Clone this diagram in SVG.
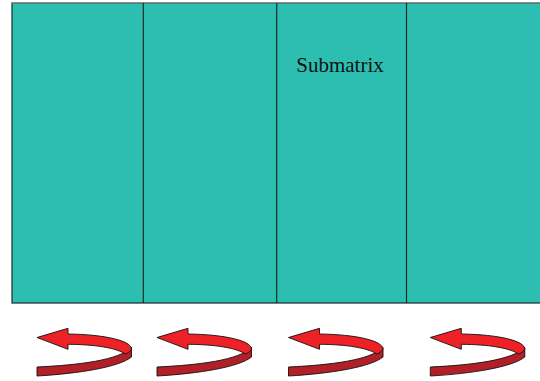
<svg xmlns="http://www.w3.org/2000/svg" width="540" height="381" viewBox="0 0 540 381">
<defs>
<style>
.cell{fill:#2cbfb1;stroke:#1a2a28;stroke-width:1.2}
.lbl{font-family:"Liberation Serif",serif;font-size:21px;fill:#111}
.top{fill:#ee2226;stroke:#111;stroke-width:0.9;stroke-linejoin:miter}
.under{fill:#b21f26;stroke:#111;stroke-width:0.9}
</style>
<g id="arrow">
<path class="under" d="M131.5,347.5 L131.5,357 C119,367 80,373.5 37,376 L37,367 C80,365 119,360 131.5,347.5 Z"/>
<path class="top" d="M37,337.5 L68,328.3 L68,334 C106,334.5 131.5,341 131.5,349 C130,351.5 128,353 125.5,354 C116,348 96,344.5 68,344.3 L68,349.3 Z"/>
</g>
</defs>
<g id="matrix">
<rect class="cell" x="12" y="3" width="540" height="300"/>
<line x1="12" y1="3" x2="540" y2="3" stroke="#9a9a9a" stroke-width="1.2"/>
</g>
<g id="connectors">
<line x1="143.3" y1="3" x2="143.3" y2="303" stroke="#1a2a28" stroke-width="1.2"/>
<line x1="276.7" y1="3" x2="276.7" y2="303" stroke="#1a2a28" stroke-width="1.2"/>
<line x1="406.5" y1="3" x2="406.5" y2="303" stroke="#1a2a28" stroke-width="1.2"/>
</g>
<g id="label">
<text class="lbl" x="340" y="72" text-anchor="middle">Submatrix</text>
</g>
<g id="arrow1"><use href="#arrow"/></g>
<g id="arrow2"><use href="#arrow" x="120"/></g>
<g id="arrow3"><use href="#arrow" x="251.5"/></g>
<g id="arrow4"><use href="#arrow" x="393.3"/></g>
</svg>
